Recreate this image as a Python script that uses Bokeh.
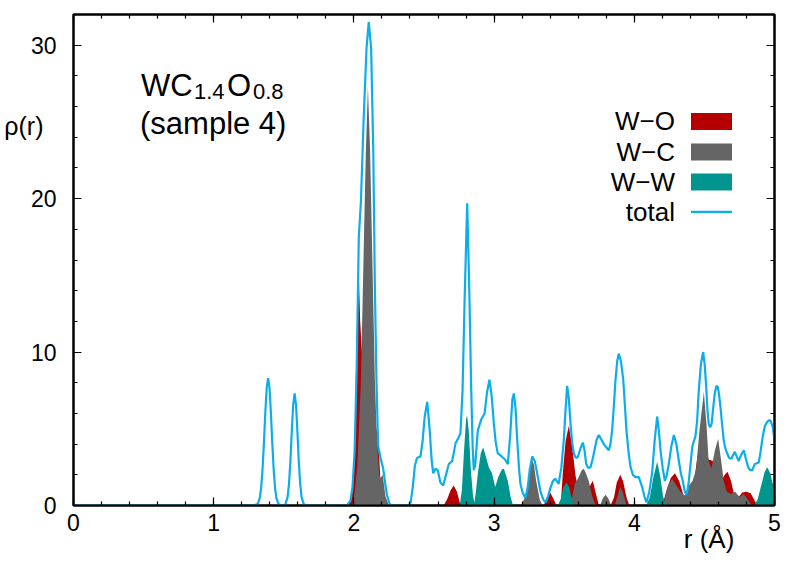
from bokeh.plotting import figure
from bokeh.models import (Range1d, LinearAxis, Label, SingleIntervalTicker, FixedTicker,
                          BoxAnnotation)
from bokeh.embed import file_html
from bokeh.resources import INLINE

# ---------------- data ----------------
r_wo = [1.95, 1.975, 1.99, 2.005, 2.018, 2.033, 2.045, 2.07, 2.10, 2.13, 2.16, 2.175, 2.19, 2.21, 2.225,
        2.64, 2.665, 2.69, 2.712, 2.735, 2.755, 2.77,
        3.355, 3.375, 3.40, 3.425, 3.445,
        3.46, 3.478, 3.49, 3.51, 3.533, 3.555, 3.58, 3.60, 3.625, 3.65, 3.67, 3.69, 3.705, 3.72, 3.745, 3.76,
        3.83, 3.855, 3.875, 3.90, 3.92, 3.945, 3.965,
        4.20, 4.23, 4.26, 4.29, 4.32, 4.35, 4.38, 4.41, 4.44, 4.47, 4.50, 4.53, 4.56, 4.59, 4.62,
        4.645, 4.665, 4.69, 4.71, 4.74, 4.77, 4.80, 4.83, 4.86, 4.88, 5.0]
rho_wo = [0, 0.3, 1.0, 4.0, 10.3, 15.8, 12.0, 8.0, 6.0, 5.0, 5.0, 4.2, 1.5, 0.3, 0,
          0, 0.4, 1.0, 1.3, 0.9, 0.2, 0,
          0, 0.5, 0.85, 0.4, 0,
          0, 0.4, 2.1, 4.2, 5.2, 4.0, 2.0, 1.0, 0.8, 0.7, 0.9, 1.4, 1.6, 1.0, 0.1, 0,
          0, 0.5, 1.5, 2.0, 1.6, 0.5, 0,
          0.0, 1.0, 1.8, 2.1, 1.6, 0.7, 0.2, 0.6, 2.5, 4.4, 4.0, 3.0, 2.9, 2.5, 1.6,
          2.0, 2.2, 1.6, 0.8, 0.5, 0.85, 0.9, 0.8, 0.3, 0, 0]

r_wc = [1.985, 2.00, 2.025, 2.05, 2.07, 2.085, 2.10, 2.115, 2.135, 2.15, 2.165, 2.18, 2.19, 2.205, 2.225, 2.25,
        3.19, 3.22, 3.245, 3.26, 3.272, 3.285, 3.30, 3.325, 3.345,
        3.545, 3.56, 3.575, 3.60, 3.625, 3.64, 3.655, 3.675, 3.70, 3.72, 3.735,
        3.755, 3.775, 3.795, 3.815, 3.835,
        3.86, 3.88, 3.90, 3.92, 3.945,
        4.205, 4.22, 4.24, 4.27, 4.30, 4.33, 4.36, 4.39, 4.415, 4.44, 4.465, 4.496, 4.515, 4.53, 4.55,
        4.575, 4.598, 4.62, 4.638, 4.66, 4.69, 4.72, 4.75, 4.78, 4.805, 4.83, 4.845, 5.0]
rho_wc = [0, 0.4, 2.6, 8.1, 16.8, 23.0, 27.3, 23.3, 14.6, 8.1, 4.2, 2.0, 1.8, 2.0, 0.6, 0,
          0, 0.5, 1.6, 2.6, 3.0, 2.6, 1.6, 0.4, 0,
          0, 0.7, 1.4, 1.8, 2.3, 2.4, 2.1, 1.6, 0.6, 0.1, 0,
          0, 0.45, 0.7, 0.45, 0,
          0, 0.6, 1.2, 0.8, 0,
          0, 0.55, 1.3, 1.75, 1.3, 0.9, 0.65, 1.3, 1.6, 2.3, 4.9, 7.4, 5.3, 2.9, 2.4,
          3.6, 4.35, 2.9, 1.6, 0.9, 0.75, 0.9, 0.55, 0.75, 0.45, 0.1, 0, 0]

r_ww = [2.755, 2.77, 2.785, 2.80, 2.807, 2.82, 2.835, 2.85, 2.86, 2.87, 2.884, 2.905, 2.922, 2.943, 2.962,
        2.985, 3.008, 3.03, 3.055, 3.07, 3.098, 3.118, 3.135,
        3.455, 3.475, 3.495, 3.515, 3.535, 3.555, 3.57,
        4.085, 4.11, 4.135, 4.163, 4.185, 4.205, 4.225,
        4.855, 4.88, 4.905, 4.93, 4.948, 4.97, 4.985, 5.0]
rho_ww = [0, 1.0, 3.5, 5.6, 5.9, 4.8, 2.2, 0.6, 0.2, 0.9, 2.1, 3.4, 3.8, 3.15, 2.5,
          2.1, 1.2, 1.85, 2.35, 2.4, 1.6, 0.55, 0,
          0, 0.4, 1.2, 1.5, 1.2, 0.4, 0,
          0, 0.5, 1.8, 2.85, 1.9, 0.6, 0,
          0, 0.4, 1.3, 2.2, 2.5, 2.1, 1.5, 1.2]

r_tot = [0.0, 1.28,
         1.313, 1.328, 1.338, 1.348, 1.358, 1.368, 1.378, 1.388, 1.398, 1.408, 1.418, 1.428, 1.438, 1.448, 1.463, 1.48,
         1.50, 1.512, 1.527, 1.537, 1.547, 1.557, 1.567, 1.577, 1.587, 1.597, 1.607, 1.617, 1.627, 1.642, 1.66,
         1.95, 1.975, 1.99, 2.005, 2.02, 2.035, 2.05, 2.07, 2.09, 2.106, 2.123, 2.138, 2.149, 2.161, 2.173,
         2.19, 2.209, 2.225, 2.237, 2.255, 2.27,
         2.39, 2.405, 2.42, 2.435, 2.45, 2.475, 2.49, 2.505, 2.523, 2.54, 2.555, 2.566, 2.582, 2.598, 2.617,
         2.637, 2.657, 2.677, 2.701, 2.725, 2.745, 2.76, 2.775, 2.79, 2.808, 2.822, 2.837, 2.847, 2.855, 2.865,
         2.884, 2.908, 2.932, 2.95, 2.967, 2.982, 2.998, 3.012, 3.026, 3.042, 3.058, 3.078, 3.098, 3.115, 3.13,
         3.141, 3.153, 3.165, 3.178, 3.188, 3.205, 3.224, 3.24, 3.255, 3.272, 3.29, 3.307, 3.331, 3.35, 3.367,
         3.385, 3.40, 3.42, 3.436, 3.46, 3.48, 3.497, 3.51, 3.521, 3.533, 3.545, 3.557, 3.569, 3.583, 3.597,
         3.615, 3.633, 3.645, 3.657, 3.672, 3.688, 3.702, 3.716, 3.732, 3.747, 3.765, 3.782, 3.80, 3.818, 3.83,
         3.842, 3.855, 3.866, 3.878, 3.889, 3.905, 3.921, 3.933, 3.944, 3.96, 3.973, 3.99, 4.009, 4.032, 4.056,
         4.072, 4.087, 4.107, 4.127, 4.145, 4.163, 4.175, 4.187, 4.203, 4.218, 4.232, 4.246, 4.265, 4.282, 4.30,
         4.318, 4.332, 4.346, 4.358, 4.37, 4.38, 4.389, 4.40, 4.413, 4.425, 4.436, 4.448, 4.46, 4.475, 4.491,
         4.502, 4.513, 4.522, 4.531, 4.541, 4.551, 4.562, 4.574, 4.586, 4.596, 4.605, 4.615, 4.627, 4.638, 4.65,
         4.662, 4.677, 4.693, 4.705, 4.717, 4.73, 4.745, 4.762, 4.781, 4.797, 4.812, 4.826, 4.841, 4.859, 4.873,
         4.888, 4.902, 4.916, 4.932, 4.948, 4.961, 4.971, 4.988, 5.0]
rho_tot = [0, 0,
           0.09, 0.47, 1.12, 2.31, 4.04, 6.03, 7.66, 8.3, 7.66, 6.03, 4.04, 2.31, 1.12, 0.47, 0.09, 0,
           0, 0.09, 0.55, 1.40, 2.88, 4.83, 6.58, 7.3, 6.58, 4.83, 2.88, 1.40, 0.55, 0.09, 0,
           0, 0.3, 1.2, 3.5, 9.0, 17.5, 19.8, 25.3, 29.8, 31.5, 29.8, 23.3, 14.6, 8.1, 3.9,
           3.1, 2.4, 1.3, 0.65, 0.1, 0,
           0, 0.2, 1.2, 2.6, 3.1, 3.2, 4.2, 5.8, 6.75, 5.0, 2.9, 2.1, 2.4, 2.3, 1.5,
           1.3, 2.0, 2.7, 2.9, 4.05, 4.4, 4.7, 7.5, 13.5, 19.7, 14.5, 7.5, 3.8, 2.3, 2.6,
           4.9, 5.6, 6.0, 7.4, 8.2, 7.2, 5.35, 4.1, 3.4, 3.3, 3.16, 3.0, 2.7, 4.6, 6.9,
           7.3, 6.3, 4.25, 2.4, 1.4, 0.8, 0.5, 1.2, 2.4, 3.2, 2.9, 2.1, 0.9, 0.4, 0.2,
           0.6, 1.1, 1.6, 1.75, 1.4, 2.5, 4.25, 6.3, 7.8, 7.0, 5.35, 4.1, 3.4, 3.1, 3.16,
           3.7, 4.1, 3.6, 2.7, 2.45, 2.5, 3.0, 3.6, 4.3, 4.6, 4.3, 4.0, 3.8, 3.6, 4.0,
           4.9, 6.6, 8.2, 9.4, 9.9, 9.4, 8.2, 6.5, 4.9, 3.4, 2.5, 2.0, 1.85, 1.85, 1.2,
           0.6, 0.2, 0.9, 2.1, 4.2, 5.8, 4.9, 3.6, 2.4, 1.6, 2.0, 2.7, 3.9, 4.6, 4.0,
           2.9, 2.1, 1.6, 1.0, 0.7, 1.0, 1.6, 2.6, 3.8, 4.2, 4.5, 5.5, 7.5, 9.2, 10.0,
           9.2, 7.7, 6.2, 5.3, 5.1, 5.3, 6.3, 7.3, 7.8, 7.7, 7.2, 6.4, 5.2, 4.25, 3.7,
           3.4, 3.1, 3.05, 3.3, 3.5, 3.2, 2.9, 3.3, 3.6, 3.0, 2.5, 2.3, 2.3, 2.7, 2.75,
           2.8, 3.6, 4.5, 5.2, 5.45, 5.55, 5.55, 5.1, 4.25]

x_ticks_interval = 1
y_ticks_interval = 10
series_names = ["W\u2212O", "W\u2212C", "W\u2212W", "total"]
series_colors = ["#b40000", "#656565", "#00968f", "#0aaeea"]
x_label = "r (\u00c5)"
y_label = "\u03c1(r)"

FONT = "Liberation Sans"

# ---------------- figure ----------------
p = figure(width=789, height=565, output_backend="svg", toolbar_location=None,
           x_range=Range1d(0, 5), y_range=Range1d(0, 32),
           min_border_left=73, min_border_right=15, min_border_top=14, min_border_bottom=60)
p.xgrid.visible = False
p.ygrid.visible = False
p.outline_line_color = "black"
p.outline_line_width = 2
p.background_fill_color = "white"
p.border_fill_color = "white"

# fills (drawn in gnuplot order) and total line
p.varea(x=r_wo, y1=0, y2=rho_wo, fill_color=series_colors[0])
p.varea(x=r_wc, y1=0, y2=rho_wc, fill_color=series_colors[1])
p.varea(x=r_ww, y1=0, y2=rho_ww, fill_color=series_colors[2])
p.line(x=r_tot, y=rho_tot, line_color=series_colors[3], line_width=2.2)


def style_axis(ax, show_labels):
    ax.axis_line_width = 2
    ax.axis_line_color = "black"
    ax.major_tick_in = 8
    ax.major_tick_out = 0
    ax.minor_tick_in = 4
    ax.minor_tick_out = 0
    ax.major_tick_line_width = 1.2
    ax.minor_tick_line_width = 1.2
    if show_labels:
        ax.major_label_text_font = FONT
        ax.major_label_text_font_size = "23px"
        ax.major_label_text_color = "black"
    else:
        ax.major_label_text_font_size = "0px"
        ax.major_label_text_color = None
        ax.major_label_standoff = 0


p.xaxis.ticker = SingleIntervalTicker(interval=x_ticks_interval, num_minor_ticks=5)
p.yaxis.ticker = SingleIntervalTicker(interval=y_ticks_interval, num_minor_ticks=5)
style_axis(p.xaxis[0], True)
style_axis(p.yaxis[0], True)
p.xaxis[0].major_label_standoff = 8
p.yaxis[0].major_label_standoff = 17

top = LinearAxis(ticker=SingleIntervalTicker(interval=x_ticks_interval, num_minor_ticks=5))
right = LinearAxis(ticker=SingleIntervalTicker(interval=y_ticks_interval, num_minor_ticks=5))
style_axis(top, False)
style_axis(right, False)
p.add_layout(top, "above")
p.add_layout(right, "right")


# helpers: convert reference-picture pixel positions to data coordinates (for text / legend)
def dx(px):
    return (px - 72.5) / 140.2


def dy(py):
    return (505.0 - py) / 15.34


# axis titles placed gnuplot-like via label-only axes
xl_pos = round(dx(708), 3)
yl_pos = round(dy(126), 3)
xlab = LinearAxis(ticker=FixedTicker(ticks=[xl_pos]), major_label_overrides={xl_pos: x_label},
                  axis_line_color=None, major_tick_line_color=None, minor_tick_line_color=None,
                  major_tick_in=0, major_tick_out=0, minor_tick_in=0, minor_tick_out=0,
                  major_label_standoff=-10, major_label_text_font=FONT,
                  major_label_text_font_size="26px", major_label_text_color="black")
ylab = LinearAxis(ticker=FixedTicker(ticks=[yl_pos]), major_label_overrides={yl_pos: y_label},
                  axis_line_color=None, major_tick_line_color=None, minor_tick_line_color=None,
                  major_tick_in=0, major_tick_out=0, minor_tick_in=0, minor_tick_out=0,
                  major_label_standoff=-16, major_label_text_font=FONT,
                  major_label_text_font_size="25px", major_label_text_color="black")
p.add_layout(xlab, "below")
p.add_layout(ylab, "left")


def add_text(txt, px, py, size, align="left", baseline="alphabetic"):
    p.add_layout(Label(x=dx(px), y=dy(py), text=txt, text_font=FONT, text_font_size=size,
                       text_align=align, text_baseline=baseline, text_color="black"))


# sample label with subscripts
add_text("WC", 140, 85, "31px")
add_text("1.4", 193, 91, "22px")
add_text("O", 226, 85, "31px")
add_text("0.8", 252, 91, "22px")
add_text("(sample 4)", 139, 123, "31px")

# legend (gnuplot style: text right-aligned, swatch on the right)
rows = [121, 151.5, 181.5, 211.5]
for i, (name, col) in enumerate(zip(series_names, series_colors)):
    yc = rows[i]
    add_text(name, 674, yc, "26px", align="right", baseline="middle")
    if i < 3:
        p.add_layout(BoxAnnotation(left=dx(690), right=dx(731), top=dy(yc - 8.5), bottom=dy(yc + 8.5),
                                   fill_color=col, fill_alpha=1, line_color=None))
    else:
        p.add_layout(BoxAnnotation(left=dx(690), right=dx(731), top=dy(yc - 1.1), bottom=dy(yc + 1.1),
                                   fill_color=col, fill_alpha=1, line_color=None))

open("out.html", "w").write(file_html(p, INLINE))
